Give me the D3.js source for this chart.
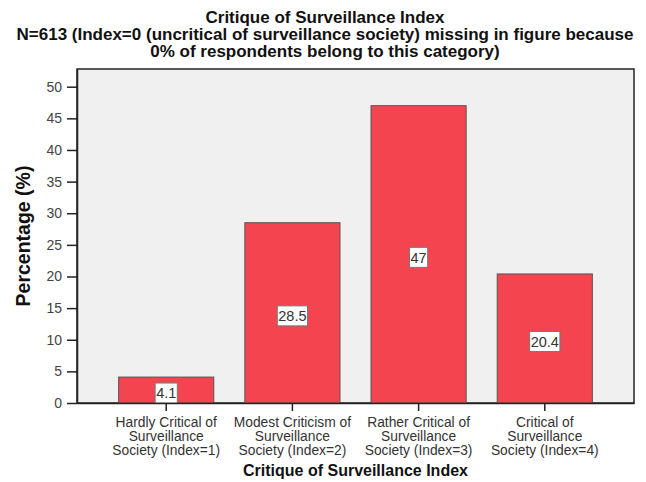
<!DOCTYPE html>
<html>
<head>
<meta charset="utf-8">
<script src="https://cdn.jsdelivr.net/npm/d3@7"></script>
<style>
  html, body { margin: 0; padding: 0; background: #fff; }
  svg { display: block; font-family: "Liberation Sans", Arial, sans-serif; }
</style>
</head>
<body>
<svg id="chart" width="646" height="482"></svg>
<script>
// Critique of Surveillance Index: share of respondents per index level
const categories = [
  ["Hardly Critical of", "Surveillance", "Society (Index=1)"],
  ["Modest Criticism of", "Surveillance", "Society (Index=2)"],
  ["Rather Critical of", "Surveillance", "Society (Index=3)"],
  ["Critical of", "Surveillance", "Society (Index=4)"]
];
const percentages = [4.1, 28.5, 47, 20.4];
const yTicks = [0, 5, 10, 15, 20, 25, 30, 35, 40, 45, 50];
const titleLines = [
  "Critique of Surveillance Index",
  "N=613 (Index=0 (uncritical of surveillance society) missing in figure because",
  "0% of respondents belong to this category)"
];

const svg = d3.select("#chart");
const plot = { left: 77, right: 634, top: 69, bottom: 403 };

const x = d3.scaleBand()
  .domain(d3.range(categories.length))
  .range([plot.left, plot.right])
  .paddingInner(0.246)
  .paddingOuter(0.33);

const y = d3.scaleLinear()
  .domain([0, 52.8])
  .range([plot.bottom, plot.top]);

// Title (three tightly set lines)
svg.append("g").selectAll("text")
  .data(titleLines)
  .join("text")
  .attr("x", 325)
  .attr("y", (d, i) => 23 + i * 17)
  .attr("text-anchor", "middle")
  .attr("font-size", 17)
  .attr("font-weight", "bold")
  .attr("fill", "#111")
  .text(d => d);

// Plot background
svg.append("rect")
  .attr("x", plot.left).attr("y", plot.top)
  .attr("width", plot.right - plot.left)
  .attr("height", plot.bottom - plot.top)
  .attr("fill", "#f0f0f0")
  .attr("stroke", "#222")
  .attr("stroke-width", 1.5);

// Bars
svg.append("g").selectAll("rect")
  .data(percentages)
  .join("rect")
  .attr("x", (d, i) => x(i))
  .attr("y", d => y(d))
  .attr("width", x.bandwidth())
  .attr("height", d => y(0) - y(d))
  .attr("fill", "#f4444f")
  .attr("stroke", "#555")
  .attr("stroke-width", 1);

// Value labels in white boxes at the middle of each bar
const labels = svg.append("g").selectAll("g")
  .data(percentages)
  .join("g")
  .attr("transform", (d, i) => `translate(${x(i) + x.bandwidth() / 2},${(y(d) + y(0)) / 2 + 3})`);

labels.append("text")
  .attr("text-anchor", "middle")
  .attr("dy", "0.36em")
  .attr("font-size", 14.5)
  .attr("fill", "#333")
  .text(d => d);

labels.each(function () {
  const g = d3.select(this);
  const bb = g.select("text").node().getBBox();
  g.insert("rect", "text")
    .attr("x", bb.x - 1)
    .attr("y", -10)
    .attr("width", bb.width + 2)
    .attr("height", 20)
    .attr("fill", "#fff")
    .attr("stroke", "#777")
    .attr("stroke-width", 1);
});

// Y axis
const yAxis = svg.append("g")
  .attr("transform", `translate(${plot.left},0)`)
  .call(d3.axisLeft(y).tickValues(yTicks).tickSize(10).tickSizeOuter(0).tickPadding(5));
yAxis.select(".domain").attr("stroke", "#222").attr("stroke-width", 1.5);
yAxis.selectAll(".tick line").attr("stroke", "#222").attr("stroke-width", 1.5);
yAxis.selectAll(".tick text")
  .attr("font-size", 14)
  .attr("fill", "#444")
  .attr("font-family", "Liberation Sans, Arial, sans-serif");

// X axis
const xAxis = svg.append("g")
  .attr("transform", `translate(0,${plot.bottom})`)
  .call(d3.axisBottom(x).tickSize(8).tickSizeOuter(0).tickFormat(""));
xAxis.select(".domain").attr("stroke", "#222").attr("stroke-width", 1.5);
xAxis.selectAll(".tick line").attr("stroke", "#222").attr("stroke-width", 1.5);

xAxis.selectAll(".tick").each(function (d) {
  const t = d3.select(this).append("text")
    .attr("text-anchor", "middle")
    .attr("font-size", 13.8)
    .attr("fill", "#333")
    .attr("font-family", "Liberation Sans, Arial, sans-serif");
  categories[d].forEach((line, i) => {
    t.append("tspan").attr("x", 0).attr("y", 24 + i * 14).text(line);
  });
});

// Axis titles
svg.append("text")
  .attr("x", (plot.left + plot.right) / 2)
  .attr("y", 476)
  .attr("text-anchor", "middle")
  .attr("font-size", 16)
  .attr("font-weight", "bold")
  .attr("fill", "#111")
  .text("Critique of Surveillance Index");

svg.append("text")
  .attr("transform", `translate(30,${(plot.top + plot.bottom) / 2}) rotate(-90)`)
  .attr("text-anchor", "middle")
  .attr("font-size", 19.5)
  .attr("font-weight", "bold")
  .attr("fill", "#111")
  .text("Percentage (%)");
</script>
</body>
</html>
